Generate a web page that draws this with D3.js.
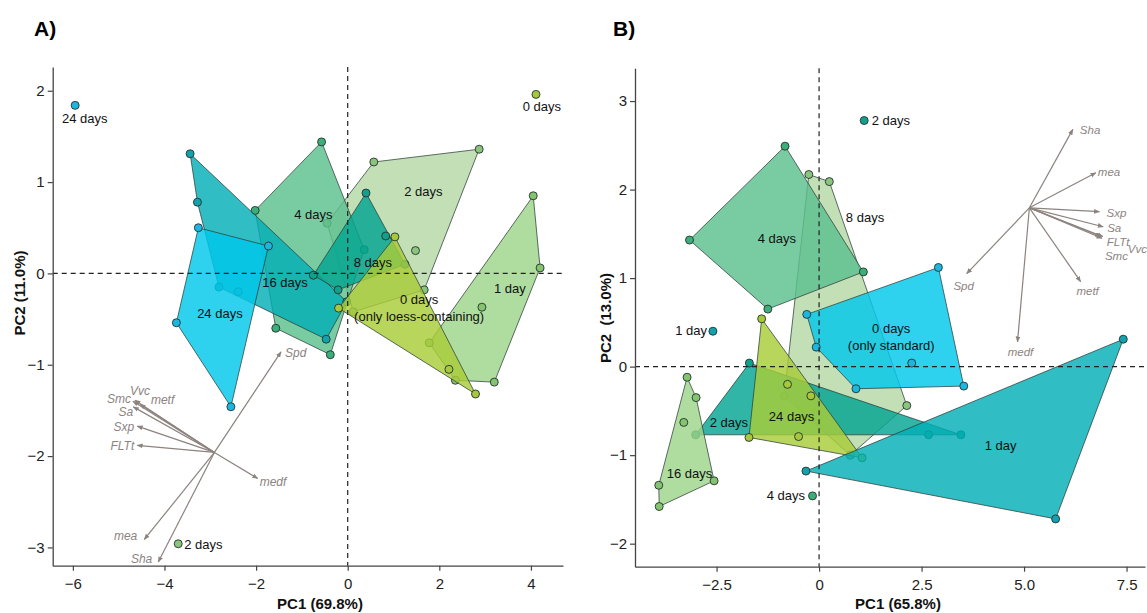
<!DOCTYPE html>
<html>
<head>
<meta charset="utf-8">
<script src="https://cdn.jsdelivr.net/npm/d3@7"></script>
<style>
  body { margin: 0; background: #fff; }
  text { font-family: "Liberation Sans", Arial, sans-serif; }
</style>
</head>
<body>
<svg id="chart" width="1147" height="613"></svg>
<script>
// ---- panel A data (PC scores) ----
const groupsA = [
  ["2 days",  [[0.57,1.22],[2.87,1.36],[1.48,0.25],[1.67,-0.18],[0.12,-0.42],[-0.45,0.55]]],
  ["4 days",  [[-0.57,1.44],[0.36,0.26],[-0.38,-0.89],[-1.57,-0.60],[-2.02,0.69]]],
  ["16 days", [[-3.44,1.31],[-3.28,0.78],[-2.81,-0.15],[-0.47,-0.72],[-0.02,-0.31],[-2.39,-0.20]]],
  ["24 days", [[-3.26,0.50],[-1.73,0.30],[-2.55,-1.46],[-3.74,-0.54]]],
  ["8 days",  [[0.40,0.88],[0.83,0.41],[1.25,0.10],[-0.21,-0.18],[-0.75,-0.02]]],
  ["1 day",   [[4.05,0.85],[4.20,0.06],[3.20,-1.19],[2.35,-1.17],[1.78,-0.76],[2.93,-0.37]]],
  ["0 days",  [[1.03,0.40],[2.79,-1.32],[-0.20,-0.38],[2.21,-1.05]]]
];
const lonersA = [["24 days",-5.95,1.84],["0 days",4.11,1.96],["2 days",-3.70,-2.96]];
const labelsA = [
  ["24 days",-5.74,1.70],["0 days",4.24,1.83],["2 days",-3.15,-2.97],
  ["4 days",-0.75,0.65],["2 days",1.65,0.90],["8 days",0.55,0.12],
  ["16 days",-1.37,-0.10],["24 days",-2.79,-0.44],["1 day",3.54,-0.16],
  ["0 days",1.56,-0.29],["(only loess-containing)",1.56,-0.475]
];
const loadOriginA = [-2.91,-1.96];
const loadNamesA = ["Spd","Vvc","Smc","metf","Sa","Sxp","FLTt","medf","mea","Sha"];
const loadEndsA = [[-1.456,-0.859],[-4.645,-1.388],[-4.688,-1.399],[-4.535,-1.432],[-4.681,-1.461],
                   [-4.594,-1.672],[-4.594,-1.883],[-1.965,-2.245],[-4.441,-2.913],[-4.135,-3.159]];

// ---- panel B data ----
const groupsB = [
  ["8 days",  [[-0.25,2.17],[0.25,2.09],[2.14,-0.44],[0.76,-1.00],[-0.85,-0.33]]],
  ["4 days",  [[-0.83,2.49],[-3.16,1.43],[-1.25,0.65],[1.08,1.07]]],
  ["0 days",  [[-0.30,0.59],[2.91,1.12],[3.53,-0.22],[0.90,-0.25],[-0.07,0.22],[2.26,0.04]]],
  ["2 days",  [[-1.70,0.04],[3.46,-0.77],[2.67,-0.77],[-3.01,-0.77]]],
  ["24 days", [[-1.40,0.54],[-1.71,-0.80],[1.05,-1.03],[-0.77,-0.20],[-0.20,-0.33],[-0.50,-0.79]]],
  ["16 days", [[-3.22,-0.12],[-3.00,-0.35],[-3.30,-0.63],[-2.56,-1.29],[-3.91,-1.34],[-3.90,-1.58]]],
  ["1 day",   [[7.42,0.31],[5.77,-1.72],[-0.32,-1.18]]]
];
const lonersB = [["2 days",1.10,2.78],["1 day",-2.59,0.40],["4 days",-0.16,-1.46]];
const labelsB = [
  ["2 days",1.75,2.785],["1 day",-3.12,0.41],["4 days",-0.81,-1.46],
  ["4 days",-1.03,1.45],["8 days",1.12,1.68],["0 days",1.76,0.43],["(only standard)",1.76,0.24],
  ["2 days",-2.20,-0.635],["24 days",-0.67,-0.56],["16 days",-3.16,-1.21],["1 day",4.43,-0.895]
];
const loadOriginB = [5.13,1.794];
const loadNamesB = ["Sha","mea","Sxp","Sa","FLTt","Smc","Vvc","metf","Spd","medf"];
const loadEndsB = [[6.19,2.68],[6.75,2.19],[6.84,1.75],[6.93,1.58],[6.92,1.47],[6.90,1.45],
                   [6.87,1.47],[6.38,0.96],[3.60,1.05],[4.84,0.28]];

// ---- styles ----
const palette = {
  cyan:   ["#00c8ea", "#1db6e0"],
  teal:   ["#03aeb6", "#12a2ae"],
  tgreen: ["#03a592", "#10a08c"],
  green:  ["#5bbf8d", "#3bae79"],
  pale:   ["#b4d8a6", "#8bc47c"],
  light:  ["#9dd48a", "#84c46e"],
  yellow: ["#a8cc38", "#a6c83a"]
};
const colorA = {"2 days":"pale","4 days":"green","16 days":"teal","24 days":"cyan","8 days":"tgreen","1 day":"light","0 days":"yellow"};
const colorB = {"8 days":"pale","4 days":"green","0 days":"cyan","2 days":"tgreen","24 days":"yellow","16 days":"light","1 day":"teal"};
// label offsets in px: [dx, dy, anchor]
const loadLabA = [[4,1,"start"],[5,-9,"middle"],[-2,-2,"end"],[11,-4,"start"],[0,5,"end"],
                  [-3,1,"end"],[-3,1,"end"],[2,4,"start"],[-7,-3,"end"],[-6,-3,"end"]];
const loadLabB = [[7,1,"start"],[2,-1,"start"],[7,1,"start"],[4,1,"start"],[4,6,"start"],
                  [3,18,"start"],[27,13,"start"],[7,9,"middle"],[-3,12,"middle"],[3,10,"middle"]];

const svg = d3.select("#chart");
const arrowCol = "#8c837f";

svg.append("defs").append("marker")
  .attr("id", "head")
  .attr("viewBox", "0 0 10 10")
  .attr("refX", 9).attr("refY", 5)
  .attr("markerWidth", 6).attr("markerHeight", 6)
  .attr("markerUnits", "userSpaceOnUse")
  .attr("orient", "auto")
  .append("path")
  .attr("d", "M0,1 L10,5 L0,9 Z")
  .attr("fill", arrowCol);

function drawPanel(p) {
  const x = d3.scaleLinear().domain(p.xDomain).range([p.left, p.right]);
  const y = d3.scaleLinear().domain(p.yDomain).range([p.bottom, p.top]);
  const g = svg.append("g");

  // loadings
  const o = p.origin;
  p.loadEnds.forEach((e, i) => {
    g.append("line")
      .attr("x1", x(o[0])).attr("y1", y(o[1]))
      .attr("x2", x(e[0])).attr("y2", y(e[1]))
      .attr("stroke", arrowCol).attr("stroke-width", 1.2)
      .attr("marker-end", "url(#head)");
    const lab = p.loadLab[i];
    g.append("text")
      .attr("x", x(e[0]) + lab[0]).attr("y", y(e[1]) + lab[1])
      .attr("text-anchor", lab[2])
      .attr("dominant-baseline", "central")
      .attr("font-style", "italic")
      .attr("font-size", p.loadSize)
      .attr("fill", arrowCol)
      .text(p.loadNames[i]);
  });

  // group hulls + points
  p.groups.forEach(([name, pts]) => {
    const c = palette[p.colors[name]];
    const hull = d3.polygonHull(pts.map(d => [x(d[0]), y(d[1])]));
    g.append("path")
      .attr("d", "M" + hull.join("L") + "Z")
      .attr("fill", c[0]).attr("fill-opacity", 0.82)
      .attr("stroke", "#2e3d38").attr("stroke-opacity", 0.75).attr("stroke-width", 1);
    g.selectAll(null).data(pts).enter().append("circle")
      .attr("cx", d => x(d[0])).attr("cy", d => y(d[1])).attr("r", 4)
      .attr("fill", c[1]).attr("stroke", "#24332f").attr("stroke-width", 0.9);
  });

  p.loners.forEach(([name, px, py]) => {
    g.append("circle")
      .attr("cx", x(px)).attr("cy", y(py)).attr("r", 4)
      .attr("fill", palette[p.colors[name]][1])
      .attr("stroke", "#24332f").attr("stroke-width", 0.9);
  });

  // zero lines
  g.append("line")
    .attr("x1", x(0)).attr("x2", x(0)).attr("y1", p.top).attr("y2", p.bottom)
    .attr("stroke", "#222").attr("stroke-width", 1.2).attr("stroke-dasharray", "5,4");
  g.append("line")
    .attr("x1", p.left).attr("x2", p.right).attr("y1", y(0)).attr("y2", y(0))
    .attr("stroke", "#222").attr("stroke-width", 1.2).attr("stroke-dasharray", "5,4");

  p.labels.forEach(([t, lx, ly]) => {
    g.append("text")
      .attr("x", x(lx)).attr("y", y(ly))
      .attr("text-anchor", "middle").attr("dominant-baseline", "central")
      .attr("font-size", 13).attr("fill", "#111")
      .text(t);
  });

  // axes
  const xa = g.append("g").attr("transform", `translate(0,${p.bottom})`)
    .call(d3.axisBottom(x).tickValues(p.xTicks).tickFormat(p.xFmt).tickSize(5).tickSizeOuter(0));
  const ya = g.append("g").attr("transform", `translate(${p.left},0)`)
    .call(d3.axisLeft(y).tickValues(p.yTicks).tickFormat(d3.format("d")).tickSize(5).tickSizeOuter(0));
  [xa, ya].forEach(a => {
    a.select(".domain").attr("stroke", "#444").attr("stroke-width", 1.3);
    a.selectAll(".tick line").attr("stroke", "#444").attr("stroke-width", 1.2);
    a.selectAll(".tick text").attr("font-size", 15).attr("fill", "#222")
      .attr("font-family", "Liberation Sans, Arial, sans-serif");
  });
  xa.selectAll(".tick text").attr("dy", "1.0em");

  g.append("text").attr("x", p.xTitle[1]).attr("y", p.xTitle[2])
    .attr("text-anchor", "middle").attr("font-weight", "bold").attr("font-size", 15)
    .attr("fill", "#111").text(p.xTitle[0]);
  g.append("text")
    .attr("transform", `translate(${p.yTitle[1]},${p.yTitle[2]}) rotate(-90)`)
    .attr("text-anchor", "middle").attr("font-weight", "bold").attr("font-size", 15)
    .attr("fill", "#111").attr("xml:space", "preserve").text(p.yTitle[0]);
  g.append("text").attr("x", p.tag[1]).attr("y", p.tag[2])
    .attr("font-weight", "bold").attr("font-size", 21).attr("fill", "#000").text(p.tag[0]);
}

drawPanel({
  left: 52.7, right: 563, top: 67, bottom: 565.7,
  xDomain: [-6.44, 4.70], yDomain: [-3.2, 2.26],
  xTicks: [-6, -4, -2, 0, 2, 4], yTicks: [-3, -2, -1, 0, 1, 2],
  xFmt: d3.format("d"), loadSize: 12,
  groups: groupsA, loners: lonersA, labels: labelsA, colors: colorA,
  origin: loadOriginA, loadEnds: loadEndsA, loadNames: loadNamesA, loadLab: loadLabA,
  xTitle: ["PC1 (69.8%)", 320, 609], yTitle: ["PC2 (11.0%)", 25, 293], tag: ["A)", 34, 36]
});

drawPanel({
  left: 635, right: 1145, top: 68.3, bottom: 566.7,
  xDomain: [-4.49, 7.95], yDomain: [-2.26, 3.37],
  xTicks: [-2.5, 0, 2.5, 5, 7.5], yTicks: [-2, -1, 0, 1, 2, 3],
  xFmt: d => d === 0 ? "0" : d3.format(".1f")(d), loadSize: 11.5,
  groups: groupsB, loners: lonersB, labels: labelsB, colors: colorB,
  origin: loadOriginB, loadEnds: loadEndsB, loadNames: loadNamesB, loadLab: loadLabB,
  xTitle: ["PC1 (65.8%)", 898, 609], yTitle: ["PC2  (13.0%)", 611, 318], tag: ["B)", 613, 36]
});
</script>
</body>
</html>
